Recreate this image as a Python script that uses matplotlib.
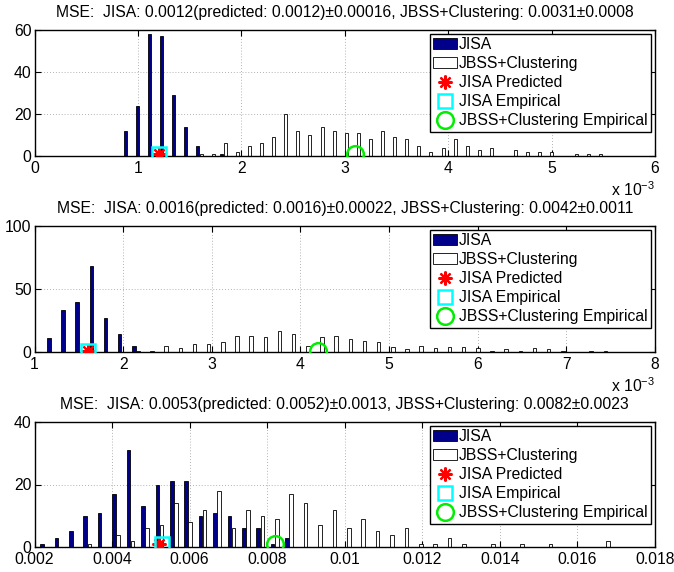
import numpy as np
import matplotlib
matplotlib.use('Agg')
import matplotlib.pyplot as plt

plt.rcParams['font.family'] = ['Liberation Sans', 'DejaVu Sans']
plt.rcParams['mathtext.fontset'] = 'custom'
plt.rcParams['mathtext.rm'] = 'Liberation Sans'

### data
titles = [
    'MSE:  JISA: 0.0012(predicted: 0.0012)\u00b10.00016, JBSS+Clustering: 0.0031\u00b10.0008',
    'MSE:  JISA: 0.0016(predicted: 0.0016)\u00b10.00022, JBSS+Clustering: 0.0042\u00b10.0011',
    'MSE:  JISA: 0.0053(predicted: 0.0052)\u00b10.0013, JBSS+Clustering: 0.0082\u00b10.0023',
]

# each panel is a 40 bin histogram: centre of first and last bin
bin_first = [0.892e-3, 1.184e-3, 2.247e-3]
bin_last = [5.455e-3, 7.417e-3, 16.74e-3]
n_bins = 40

# counts, JISA starts at bin 0, JBSS at jbss_start
jisa_1 = [12, 24, 58, 57, 29, 14, 5, 0, 1]
jisa_2 = [11, 33, 40, 68, 27, 14, 5]
jisa_3 = [1, 3, 5, 10, 11, 17, 31, 13, 20, 21, 21, 10, 11, 10, 6, 6, 1, 3]

jbss_start = [6, 6, 3]
jbss_1 = [1, 1, 6, 2, 5, 6, 9, 20, 12, 10, 14, 12, 11, 11, 8, 12, 9, 8, 5, 2,
          4, 8, 5, 3, 4, 0, 3, 2, 2, 2, 0, 1, 1, 1]
jbss_2 = [1, 1, 5, 3, 6, 6, 8, 13, 13, 12, 17, 14, 5, 12, 13, 10, 9, 8, 4, 2,
          5, 3, 4, 4, 3, 1, 2, 1, 3, 2, 1, 0, 1, 1]
jbss_3 = [1, 0, 4, 2, 6, 7, 14, 8, 12, 18, 6, 12, 10, 9, 17, 14, 7, 12, 6, 9,
          5, 4, 6, 1, 1, 3, 1, 0, 1, 0, 1, 0, 1, 0, 0, 0, 2]

jisa_pred = [1.2e-3, 1.6e-3, 5.2e-3]
jisa_emp = [1.2e-3, 1.6e-3, 5.3e-3]
jbss_emp = [3.1e-3, 4.2e-3, 8.2e-3]

xlims = [(0, 6e-3), (1e-3, 8e-3), (0.002, 0.018)]
ylims = [(0, 60), (0, 100), (0, 40)]
yticks = [[0, 20, 40, 60], [0, 50, 100], [0, 20, 40]]
xticks = [[0, 1e-3, 2e-3, 3e-3, 4e-3, 5e-3, 6e-3],
          [1e-3, 2e-3, 3e-3, 4e-3, 5e-3, 6e-3, 7e-3, 8e-3],
          [0.002, 0.004, 0.006, 0.008, 0.01, 0.012, 0.014, 0.016, 0.018]]
xticklabels = [['0', '1', '2', '3', '4', '5', '6'],
               ['1', '2', '3', '4', '5', '6', '7', '8'],
               ['0.002', '0.004', '0.006', '0.008', '0.01', '0.012', '0.014', '0.016', '0.018']]
exp_label = [True, True, False]

jisa_all = [jisa_1, jisa_2, jisa_3]
jbss_all = [jbss_1, jbss_2, jbss_3]

navy = '#00008b'
fs = 11.3

fig = plt.figure(figsize=(6.74, 5.72), dpi=100)
W, H = 674.0, 572.0
boxes = [(34.5, 30, 655, 156), (34.5, 226, 655, 352), (34.5, 422, 655, 547)]

for i in range(3):
    l, t, r, b = boxes[i]
    ax = fig.add_axes([l / W, 1 - b / H, (r - l) / W, (b - t) / H])

    centres = np.linspace(bin_first[i], bin_last[i], n_bins)
    step = centres[1] - centres[0]
    bw = 0.25 * step
    off = 0.143 * step

    xj = centres[:len(jisa_all[i])] - off
    s = jbss_start[i]
    xb = centres[s:s + len(jbss_all[i])] + off

    h1 = ax.bar(xj, jisa_all[i], width=bw, color=navy, edgecolor='black', linewidth=0.6,
                label='JISA', zorder=2)
    h2 = ax.bar(xb, jbss_all[i], width=bw, color='white', edgecolor='black', linewidth=0.6,
                label='JBSS+Clustering', zorder=2)

    h3, = ax.plot([jisa_pred[i]], [1], linestyle='none', marker=(8, 2, 0), color='red',
                  markersize=10, markeredgewidth=1.6, label='JISA Predicted', zorder=4)
    h4, = ax.plot([jisa_emp[i]], [1], linestyle='none', marker='s', markerfacecolor='none',
                  markeredgecolor='cyan', markersize=10, markeredgewidth=1.8,
                  label='JISA Empirical', zorder=4)
    h5, = ax.plot([jbss_emp[i]], [1], linestyle='none', marker='o', markerfacecolor='none',
                  markeredgecolor='#00ee00', markersize=12, markeredgewidth=1.8,
                  label='JBSS+Clustering Empirical', zorder=4)

    ax.set_xlim(xlims[i])
    ax.set_ylim(ylims[i])
    ax.set_xticks(xticks[i])
    ax.set_xticklabels(xticklabels[i])
    ax.set_yticks(yticks[i])
    ax.tick_params(axis='both', direction='in', length=4, width=0.8, top=True, right=True,
                   labelsize=fs, pad=2)
    ax.tick_params(axis='x', pad=3.5)
    ax.grid(True, linestyle=(0, (1, 2.5)), color='#999999', linewidth=0.6)
    ax.set_axisbelow(True)
    for sp in ax.spines.values():
        sp.set_linewidth(1.0)

    ax.set_title(titles[i], fontsize=fs, pad=9)

    if exp_label[i]:
        ax.text(1.0, -0.317, r'x 10$^{-3}$', transform=ax.transAxes, ha='right',
                va='baseline', fontsize=fs)

    leg = ax.legend(handles=[h1, h2, h3, h4, h5], loc='upper right',
                    bbox_to_anchor=(0.9936, 0.968), borderaxespad=0, fontsize=fs,
                    fancybox=False, framealpha=1, edgecolor='black',
                    handlelength=1.5, handletextpad=0.15, borderpad=0.22,
                    labelspacing=0.25)
    leg.get_frame().set_linewidth(1.0)

fig.savefig('out.png', dpi=100)
